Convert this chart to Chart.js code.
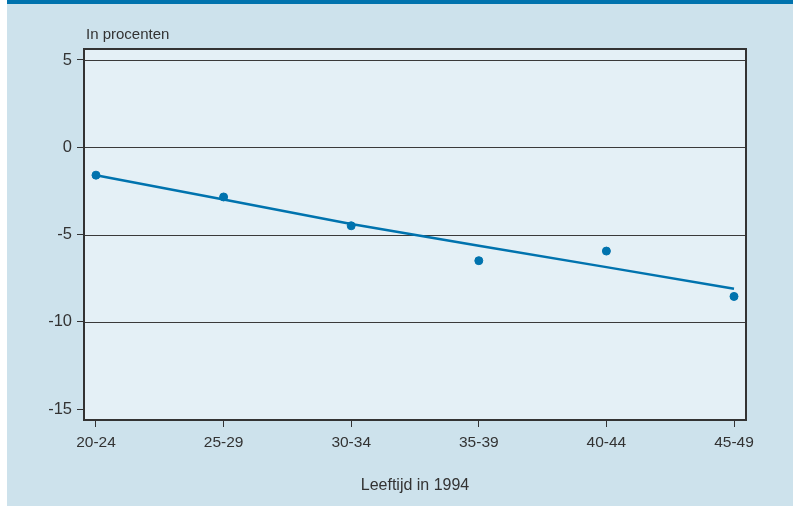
<!DOCTYPE html>
<html><head><meta charset="utf-8">
<script src="https://cdn.jsdelivr.net/npm/chart.js@4"></script>
<style>html,body{margin:0;padding:0;background:#cde2ec;}#wrap{width:793px;height:506px;position:relative;}</style>
</head><body><div id="wrap"><canvas id="c" width="793" height="506"></canvas></div>
<script>
const categories = ["20-24","25-29","30-34","35-39","40-44","45-49"];
const values = [-1.6, -2.85, -4.5, -6.5, -5.95, -8.55];
const trendValues = [-1.6, -3.0, -4.4, -5.65, -6.87, -8.11];
const yTicks = [-15, -10, -5, 0, 5];
const gridValues = [-10, -5, 0, 5];
const yLabel = "In procenten";
const xLabel = "Leeftijd in 1994";

const FONT = "'Liberation Sans', Arial, sans-serif";
const pts = values.map((v,i)=>({x:i,y:v}));
const trend = trendValues.map((v,i)=>({x:i,y:v}));

const bgPlugin = {
  id:'bg',
  beforeDraw(chart){
    const {ctx, chartArea:a} = chart;
    ctx.save();
    ctx.fillStyle='#cde2ec'; ctx.fillRect(0,0,chart.width,chart.height);
    ctx.fillStyle='#ffffff'; ctx.fillRect(0,0,7,chart.height);
    ctx.fillStyle='#0073ae'; ctx.fillRect(7,0,chart.width-7,4);
    ctx.fillStyle='#e4f0f6'; ctx.fillRect(a.left,a.top,a.right-a.left,a.bottom-a.top);
    ctx.restore();
  },
  beforeDatasetsDraw(chart){
    const {ctx, chartArea:a, scales:{y}} = chart;
    ctx.save();
    ctx.strokeStyle='#3a3a3a';
    ctx.lineWidth=1.2;
    gridValues.forEach(v=>{
      const py = Math.round(y.getPixelForValue(v))+0.5;
      ctx.beginPath(); ctx.moveTo(a.left,py); ctx.lineTo(a.right,py); ctx.stroke();
    });
    ctx.restore();
  },
  afterDraw(chart){
    const {ctx, chartArea:a} = chart;
    ctx.save();
    ctx.strokeStyle='#333';
    ctx.lineWidth=2;
    ctx.strokeRect(a.left,a.top,a.right-a.left,a.bottom-a.top);
    ctx.fillStyle='#333';
    ctx.font="15px "+FONT;
    ctx.textBaseline='middle';
    ctx.textAlign='left';
    ctx.fillText(yLabel, 86, 35);
    ctx.restore();
  }
};

new Chart(document.getElementById('c'),{
  type:'scatter',
  data:{datasets:[
    {data:trend, showLine:true, borderColor:'#0073ae', borderWidth:2.5, pointRadius:0, fill:false, tension:0, order:1},
    {data:pts, backgroundColor:'#0073ae', borderColor:'#0073ae', pointRadius:4, pointHoverRadius:4, showLine:false, order:0}
  ]},
  options:{
    responsive:false, animation:false, devicePixelRatio:1,
    layout:{padding:{left:0,top:49,right:47,bottom:0}},
    plugins:{legend:{display:false},tooltip:{enabled:false}},
    scales:{
      x:{type:'linear', min:-0.094, max:5.094,
        afterBuildTicks(s){s.ticks=categories.map((c,i)=>({value:i}));},
        afterFit(s){s.height=86;},
        ticks:{callback:(v)=>categories[v], color:'#333', font:{family:FONT,size:15.5}, padding:6, maxRotation:0, autoSkip:false},
        grid:{drawOnChartArea:false, color:'#333', tickLength:7, lineWidth:1},
        border:{display:false},
        title:{display:true, text:xLabel, color:'#333', font:{family:FONT,size:16}, padding:{top:0,bottom:11}}
      },
      y:{type:'linear', min:-15.63, max:5.63,
        afterBuildTicks(s){s.ticks=yTicks.map(v=>({value:v}));},
        afterFit(s){s.width=84;},
        ticks:{color:'#333', font:{family:FONT,size:16.5}, padding:5},
        grid:{drawOnChartArea:false, color:'#333', tickLength:7, lineWidth:1},
        border:{display:false}
      }
    }
  },
  plugins:[bgPlugin]
});
</script></body></html>
